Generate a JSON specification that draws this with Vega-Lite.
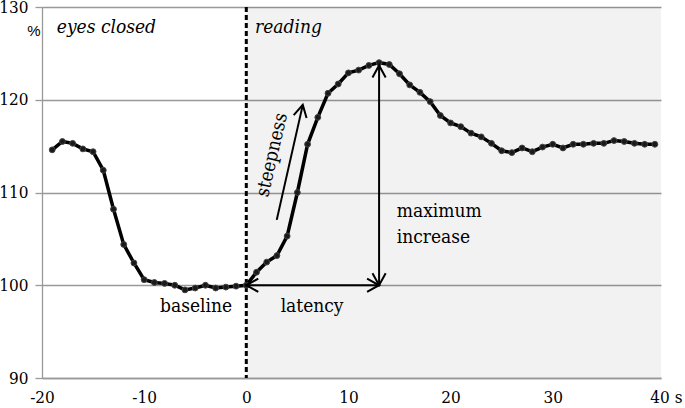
{
  "$schema": "https://vega.github.io/schema/vega-lite/v6.json",
  "width": 619,
  "height": 371,
  "autosize": {"type": "none"},
  "padding": {"left": 42, "top": 7, "right": 24, "bottom": 30},
  "background": "white",
  "config": {"view": {"stroke": null}},
  "datasets": {
    "series": [
      {"t": -19, "v": 114.6}, {"t": -18, "v": 115.5}, {"t": -17, "v": 115.3}, {"t": -16, "v": 114.7},
      {"t": -15, "v": 114.4}, {"t": -14, "v": 112.4}, {"t": -13, "v": 108.2}, {"t": -12, "v": 104.4},
      {"t": -11, "v": 102.4}, {"t": -10, "v": 100.6}, {"t": -9, "v": 100.3}, {"t": -8, "v": 100.2},
      {"t": -7, "v": 100.0}, {"t": -6, "v": 99.5}, {"t": -5, "v": 99.7}, {"t": -4, "v": 100.0},
      {"t": -3, "v": 99.7}, {"t": -2, "v": 99.8}, {"t": -1, "v": 99.9}, {"t": 0, "v": 100.0},
      {"t": 1, "v": 101.4}, {"t": 2, "v": 102.5}, {"t": 3, "v": 103.2}, {"t": 4, "v": 105.3},
      {"t": 5, "v": 110.0}, {"t": 6, "v": 115.2}, {"t": 7, "v": 118.1}, {"t": 8, "v": 120.7},
      {"t": 9, "v": 121.7}, {"t": 10, "v": 122.9}, {"t": 11, "v": 123.2}, {"t": 12, "v": 123.7},
      {"t": 13, "v": 124.0}, {"t": 14, "v": 123.8}, {"t": 15, "v": 122.8}, {"t": 16, "v": 121.6},
      {"t": 17, "v": 120.8}, {"t": 18, "v": 119.8}, {"t": 19, "v": 118.3}, {"t": 20, "v": 117.5},
      {"t": 21, "v": 117.1}, {"t": 22, "v": 116.4}, {"t": 23, "v": 116.0}, {"t": 24, "v": 115.3},
      {"t": 25, "v": 114.5}, {"t": 26, "v": 114.3}, {"t": 27, "v": 114.8}, {"t": 28, "v": 114.4},
      {"t": 29, "v": 114.9}, {"t": 30, "v": 115.2}, {"t": 31, "v": 114.8}, {"t": 32, "v": 115.2},
      {"t": 33, "v": 115.2}, {"t": 34, "v": 115.3}, {"t": 35, "v": 115.3}, {"t": 36, "v": 115.6},
      {"t": 37, "v": 115.5}, {"t": 38, "v": 115.3}, {"t": 39, "v": 115.2}, {"t": 40, "v": 115.2}
    ],
    "phases": [{"phase": "reading", "start": 0, "end": 40.6, "lo": 90, "hi": 130}],
    "onset": [{"t": 0}],
    "arrows": [
      {"name": "latency", "x1": 0, "y1": 100, "x2": 13, "y2": 100},
      {"name": "maximum increase", "x1": 13, "y1": 100, "x2": 13, "y2": 123.7},
      {"name": "steepness", "x1": 2.98, "y1": 107.05, "x2": 5.53, "y2": 119.45}
    ],
    "heads": [
      {"x": 0, "y": 100, "dir": "left"},
      {"x": 13, "y": 100, "dir": "right"},
      {"x": 13, "y": 100, "dir": "down"},
      {"x": 13, "y": 123.7, "dir": "up"},
      {"x": 5.53, "y": 119.45, "dir": "steep"}
    ],
    "phaseLabels": [
      {"x": -18.55, "y": 127.2, "label": "eyes closed"},
      {"x": 0.86, "y": 127.2, "label": "reading"}
    ],
    "centerLabels": [
      {"x": -4.91, "y": 97.07, "label": "baseline"},
      {"x": 6.44, "y": 97.07, "label": "latency"}
    ],
    "leftLabels": [
      {"x": 14.73, "y": 107.41, "label": "maximum"},
      {"x": 14.73, "y": 104.54, "label": "increase"}
    ],
    "rotLabels": [{"x": 2.49, "y": 114.06, "label": "steepness"}]
  },
  "layer": [
    {
      "data": {"name": "phases"},
      "mark": {"type": "rect", "fill": "#000000", "opacity": 0.05},
      "encoding": {
        "x": {
          "field": "start", "type": "quantitative", "title": null,
          "scale": {"domain": [-20, 40.6], "nice": false, "zero": false},
          "axis": {
            "values": [-20, -10, 0, 10, 20, 30, 40],
            "grid": false, "ticks": false, "tickSize": 0,
            "domainColor": "#999999", "domainWidth": 1.3,
            "labelFont": "DejaVu Serif Condensed", "labelFontSize": 17, "labelColor": "black",
            "labelPadding": 11,
            "labelExpr": "datum.value == 40 ? '40 s' : '' + datum.value",
            "labelAlign": {"condition": {"test": "datum.value == 40", "value": "left"}, "value": "center"},
            "labelOffset": {"condition": {"test": "datum.value == 40", "value": -5}, "value": 0},
            "labelFlush": false, "labelOverlap": false, "labelBound": false
          }
        },
        "x2": {"field": "end"},
        "y": {
          "field": "lo", "type": "quantitative", "title": "%",
          "scale": {"domain": [90, 130], "nice": false, "zero": false},
          "axis": {
            "values": [90, 100, 110, 120, 130],
            "grid": true, "gridColor": "#999999", "gridWidth": 1.3,
            "domainColor": "#999999", "domainWidth": 1.3,
            "tickColor": "#999999", "tickSize": 7, "tickWidth": 1.3,
            "labelFont": "DejaVu Serif Condensed", "labelFontSize": 17, "labelColor": "black",
            "labelPadding": 7, "labelFlush": false, "labelBound": false, "labelOverlap": false,
            "title": "%", "titleAngle": 0, "titleX": -2, "titleY": 28.5,
            "titleAlign": "right", "titleBaseline": "alphabetic",
            "titleFont": "Liberation Sans", "titleFontSize": 15, "titleFontWeight": "normal",
            "titleColor": "black"
          }
        },
        "y2": {"field": "hi"}
      }
    },
    {
      "data": {"name": "onset"},
      "mark": {"type": "rule", "color": "black", "strokeWidth": 3, "strokeDash": [5, 3]},
      "encoding": {"x": {"field": "t", "type": "quantitative"}}
    },
    {
      "data": {"name": "series"},
      "mark": {
        "type": "line", "color": "black", "strokeWidth": 3.5,
        "point": {"filled": true, "size": 34, "color": "#1a1a1a", "stroke": "#444444", "strokeWidth": 1}
      },
      "encoding": {
        "x": {"field": "t", "type": "quantitative"},
        "y": {"field": "v", "type": "quantitative"}
      }
    },
    {
      "data": {"name": "arrows"},
      "mark": {"type": "rule", "color": "black", "strokeWidth": 2},
      "encoding": {
        "x": {"field": "x1", "type": "quantitative"},
        "y": {"field": "y1", "type": "quantitative"},
        "x2": {"field": "x2"},
        "y2": {"field": "y2"}
      }
    },
    {
      "data": {"name": "heads"},
      "transform": [{"filter": "datum.dir == 'up'"}],
      "mark": {"type": "point", "shape": "M -0.55 1 L 0 0 L 0.55 1", "filled": false, "stroke": "black", "strokeWidth": 2, "size": 576, "angle": 0, "opacity": 1},
      "encoding": {"x": {"field": "x", "type": "quantitative"}, "y": {"field": "y", "type": "quantitative"}}
    },
    {
      "data": {"name": "heads"},
      "transform": [{"filter": "datum.dir == 'down'"}],
      "mark": {"type": "point", "shape": "M -0.55 1 L 0 0 L 0.55 1", "filled": false, "stroke": "black", "strokeWidth": 2, "size": 576, "angle": 180, "opacity": 1},
      "encoding": {"x": {"field": "x", "type": "quantitative"}, "y": {"field": "y", "type": "quantitative"}}
    },
    {
      "data": {"name": "heads"},
      "transform": [{"filter": "datum.dir == 'right'"}],
      "mark": {"type": "point", "shape": "M -0.55 1 L 0 0 L 0.55 1", "filled": false, "stroke": "black", "strokeWidth": 2, "size": 576, "angle": 90, "opacity": 1},
      "encoding": {"x": {"field": "x", "type": "quantitative"}, "y": {"field": "y", "type": "quantitative"}}
    },
    {
      "data": {"name": "heads"},
      "transform": [{"filter": "datum.dir == 'left'"}],
      "mark": {"type": "point", "shape": "M -0.55 1 L 0 0 L 0.55 1", "filled": false, "stroke": "black", "strokeWidth": 2, "size": 576, "angle": 270, "opacity": 1},
      "encoding": {"x": {"field": "x", "type": "quantitative"}, "y": {"field": "y", "type": "quantitative"}}
    },
    {
      "data": {"name": "heads"},
      "transform": [{"filter": "datum.dir == 'steep'"}],
      "mark": {"type": "point", "shape": "M -0.55 1 L 0 0 L 0.55 1", "filled": false, "stroke": "black", "strokeWidth": 2, "size": 576, "angle": 12.7, "opacity": 1},
      "encoding": {"x": {"field": "x", "type": "quantitative"}, "y": {"field": "y", "type": "quantitative"}}
    },
    {
      "data": {"name": "phaseLabels"},
      "mark": {"type": "text", "font": "DejaVu Serif Condensed", "fontSize": 19, "fontStyle": "italic", "align": "left", "baseline": "alphabetic", "color": "black"},
      "encoding": {"x": {"field": "x", "type": "quantitative"}, "y": {"field": "y", "type": "quantitative"}, "text": {"field": "label"}}
    },
    {
      "data": {"name": "centerLabels"},
      "mark": {"type": "text", "font": "DejaVu Serif Condensed", "fontSize": 19, "align": "center", "baseline": "alphabetic", "color": "black"},
      "encoding": {"x": {"field": "x", "type": "quantitative"}, "y": {"field": "y", "type": "quantitative"}, "text": {"field": "label"}}
    },
    {
      "data": {"name": "leftLabels"},
      "mark": {"type": "text", "font": "DejaVu Serif Condensed", "fontSize": 19, "align": "left", "baseline": "alphabetic", "color": "black"},
      "encoding": {"x": {"field": "x", "type": "quantitative"}, "y": {"field": "y", "type": "quantitative"}, "text": {"field": "label"}}
    },
    {
      "data": {"name": "rotLabels"},
      "mark": {"type": "text", "font": "DejaVu Serif Condensed", "fontSize": 19, "align": "center", "baseline": "middle", "angle": 283, "color": "black"},
      "encoding": {"x": {"field": "x", "type": "quantitative"}, "y": {"field": "y", "type": "quantitative"}, "text": {"field": "label"}}
    }
  ]
}
